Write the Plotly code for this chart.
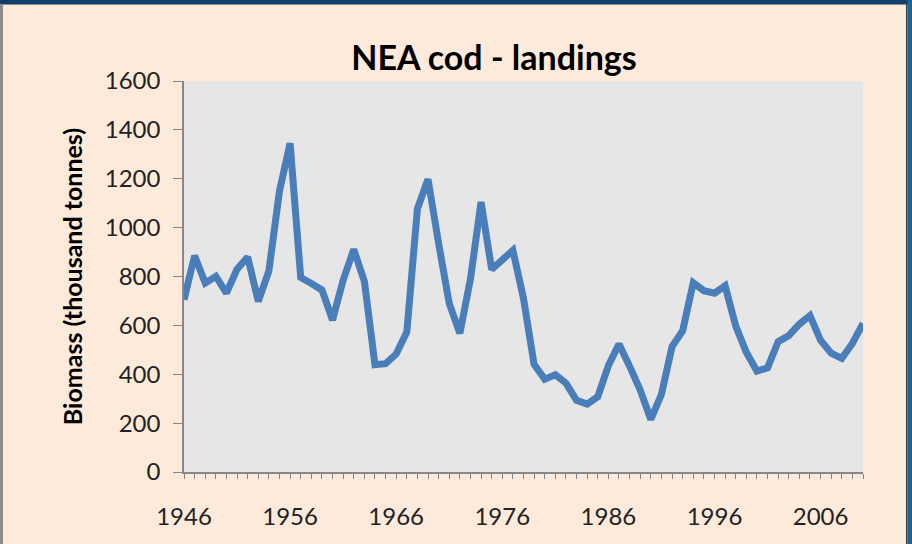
import plotly.graph_objects as go

# NEA cod landings, thousand tonnes
years = list(range(1946, 2011))
landings = [
    705, 885, 773, 801, 732, 830, 880, 698, 823, 1150,
    1345, 796, 771, 745, 622, 785, 911, 780, 439, 443,
    483, 573, 1077, 1198, 935, 690, 567, 790, 1105, 829,
    868, 907, 710, 440, 380, 398, 364, 293, 278, 308,
    435, 524, 433, 335, 215, 317, 513, 578, 774, 742,
    732, 762, 598, 490, 413, 426, 533, 558, 605, 640,
    539, 486, 465, 526, 608,
]
x_ticks = list(range(1946, 2007, 10))
y_ticks = list(range(0, 1601, 200))

W, H = 912, 544
L, R, T, B = 184, 49, 81, 72
PW, PH = W - L - R, H - T - B


def px(x):
    return (x - L) / PW


def py(y):
    return (H - B - y) / PH


fig = go.Figure()
fig.add_trace(go.Scatter(
    x=years, y=landings, mode="lines",
    line=dict(color="#4A7EBB", width=7),
    hoverinfo="x+y", showlegend=False,
))

frame = [
    # dark blue strip at top
    dict(x0=px(0), x1=px(W), y0=py(0), y1=py(4), fillcolor="#123E6C"),
    dict(x0=px(0), x1=px(W), y0=py(4), y1=py(5), fillcolor="#8A8A8A"),
    # gray edge at left
    dict(x0=px(0), x1=px(3), y0=py(4), y1=py(H), fillcolor="#8C8C8C"),
    # blue edge at right
    dict(x0=px(906), x1=px(907.5), y0=py(4), y1=py(H), fillcolor="#3A3A3A"),
    dict(x0=px(907.5), x1=px(W), y0=py(0), y1=py(H), fillcolor="#1B6496"),
]
for s in frame:
    fig.add_shape(type="rect", xref="paper", yref="paper", line_width=0,
                  layer="above", **s)

fig.update_layout(
    width=W, height=H,
    margin=dict(l=L, r=R, t=T, b=B, autoexpand=False),
    paper_bgcolor="#FDEADA",
    plot_bgcolor="#E6E6E6",
    font=dict(family="Lato, Open Sans, sans-serif", color="#111111"),
    title=dict(
        text="<b>NEA cod - landings</b>",
        x=494 / W, xanchor="center",
        y=1 - 58 / H, yanchor="middle",
        font=dict(size=34, color="#000000"),
        automargin=False,
    ),
)
fig.update_xaxes(
    range=[1946, 2010], showgrid=False, zeroline=False, automargin=False,
    tickmode="array", tickvals=x_ticks, ticktext=[str(v) for v in x_ticks],
    ticks="outside", ticklen=5, tickcolor="#868686", tickwidth=1,
    minor=dict(dtick=1, tick0=1946, ticks="outside", ticklen=5,
               tickcolor="#868686", showgrid=False),
    showline=True, linecolor="#868686", linewidth=1.5,
    tickfont=dict(size=24, color="#222222"),
    ticklabelstandoff=17,
)
fig.update_yaxes(
    range=[0, 1600], showgrid=False, zeroline=False, automargin=False,
    tickmode="array", tickvals=y_ticks,
    ticks="outside", ticklen=9, tickcolor="#868686", tickwidth=1,
    showline=True, linecolor="#868686", linewidth=1.5,
    tickfont=dict(size=24, color="#222222"),
    ticklabelstandoff=8,
    title=dict(text="<b>Biomass (thousand tonnes)</b>",
               font=dict(size=25, color="#000000"), standoff=15),
)

fig.write_html("out.html", config={"displayModeBar": False},
               post_script="document.body.style.margin='0';")
